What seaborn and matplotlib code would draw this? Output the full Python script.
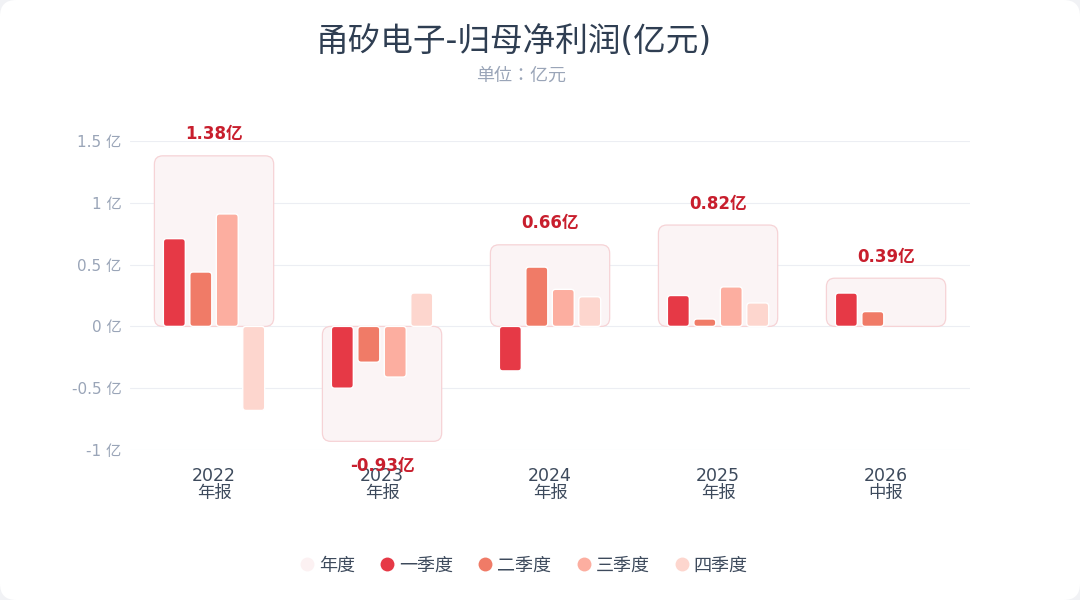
import numpy as np
import pandas as pd
import matplotlib.pyplot as plt
import seaborn as sns
from matplotlib.patches import FancyBboxPatch, Rectangle
from matplotlib.lines import Line2D

years = ['2022', '2023', '2024', '2025', '2026']
periods = ['年报', '年报', '年报', '年报', '中报']
annual = [1.38, -0.93, 0.66, 0.82, 0.39]
q1 = [0.71, -0.50, -0.36, 0.25, 0.27]
q2 = [0.44, -0.29, 0.48, 0.06, 0.12]
q3 = [0.91, -0.41, 0.30, 0.32, np.nan]
q4 = [-0.68, 0.27, 0.24, 0.19, np.nan]
quarters = ['一季度', '二季度', '三季度', '四季度']

colors = {'一季度': '#e63946', '二季度': '#f07b67', '三季度': '#fcaea0', '四季度': '#fdd6ce'}
annual_fill = '#fbf4f5'
annual_edge = '#f6d3d6'

sns.set_theme(style="white")
plt.rcParams['font.family'] = ['DejaVu Sans', 'Noto Sans CJK SC']
plt.rcParams['axes.unicode_minus'] = False

rows = []
for name, vals in zip(quarters, [q1, q2, q3, q4]):
    for y, v in zip(years, vals):
        rows.append({'year': y, 'quarter': name, 'value': v})
df = pd.DataFrame(rows)
df_year = pd.DataFrame({'year': years, 'value': annual})

fig = plt.figure(figsize=(10.8, 6), dpi=100)
fig.patch.set_facecolor('#f1f2f5')
fig.patches.append(FancyBboxPatch((0, 0), 1, 1,
                                  boxstyle="round,pad=0,rounding_size=0.015",
                                  transform=fig.transFigure, facecolor='white',
                                  edgecolor='none', zorder=-10, mutation_aspect=1.8))
ax = fig.add_axes([0.1204, 0.25, 0.7778, 0.515])

sns.barplot(data=df_year, x='year', y='value', order=years, width=0.71,
            color=annual_fill, edgecolor=annual_edge, linewidth=0.9,
            saturation=1, errorbar=None, ax=ax, zorder=1)
n_annual = len(ax.patches)
sns.barplot(data=df, x='year', y='value', hue='quarter', order=years,
            hue_order=quarters, palette=colors, width=0.63, gap=0.17,
            saturation=1, errorbar=None, ax=ax, legend=False, zorder=2)

# swap plain rectangles for rounded ones
aspect = (1 / 123.3) / (1 / 168)
for i, p in enumerate(list(ax.patches)):
    if not isinstance(p, Rectangle):
        continue
    x0, y0 = p.get_x(), p.get_y()
    w, h = p.get_width(), p.get_height()
    if np.isnan(h) or h == 0:
        p.remove()
        continue
    r = 0.05 if i < n_annual else 0.02
    bottom = min(y0, y0 + h)
    rp = FancyBboxPatch((x0, bottom), w, abs(h),
                        boxstyle=f"round,pad=0,rounding_size={r}",
                        mutation_aspect=aspect,
                        facecolor=p.get_facecolor(), edgecolor=p.get_edgecolor(),
                        linewidth=p.get_linewidth(), zorder=p.get_zorder())
    p.remove()
    ax.add_patch(rp)

for i, v in enumerate(annual):
    off = 9 if v >= 0 else -11
    ax.annotate(f'{v:.2f}亿', (i, v), xytext=(0, off), textcoords='offset points',
                ha='center', va='bottom' if v >= 0 else 'top',
                fontsize=12, fontweight='bold', color='#c81e2d', zorder=5)

ax.set_xlim(-0.5, 4.5)
ax.set_ylim(-1.0, 1.5)
ax.set_yticks([-1, -0.5, 0, 0.5, 1, 1.5])
ax.set_yticklabels(['-1 亿', '-0.5 亿', '0 亿', '0.5 亿', '1 亿', '1.5 亿'])
ax.set_xticks(range(len(years)))
ax.set_xticklabels([f'{y}\n{p}' for y, p in zip(years, periods)], linespacing=0.95)
ax.tick_params(axis='y', length=0, pad=6, labelsize=11, labelcolor='#9aa5b8')
ax.tick_params(axis='x', length=0, pad=12, labelsize=12.5, labelcolor='#3d4a5c')
ax.yaxis.grid(True, color='#eceef3', linewidth=0.8)
ax.set_axisbelow(True)
for s in ax.spines.values():
    s.set_visible(False)
ax.set_facecolor('none')
ax.set_xlabel('')
ax.set_ylabel('')

fig.text(0.476, 0.931, '甬矽电子-归母净利润(亿元)', ha='center', va='center',
         fontsize=23.5, color='#2f3e52', fontweight='medium')
fig.text(0.482, 0.873, '单位：亿元', ha='center', va='center',
         fontsize=13, color='#9aa5b8', family=['DejaVu Sans', 'Noto Sans CJK JP'])

handles = [Line2D([], [], marker='o', linestyle='', markersize=10,
                  markerfacecolor='#fcf1f2', markeredgecolor='none', label='年度')]
for q in quarters:
    handles.append(Line2D([], [], marker='o', linestyle='', markersize=10,
                          markerfacecolor=colors[q], markeredgecolor='none', label=q))
leg = fig.legend(handles=handles, loc='center', bbox_to_anchor=(0.482, 0.057),
                 ncol=5, frameon=False, fontsize=13, handletextpad=-0.1,
                 columnspacing=1.05, handlelength=1.5)
for t in leg.get_texts():
    t.set_color('#3d4a5c')

fig.savefig('out.png', dpi=100, facecolor=fig.get_facecolor())
